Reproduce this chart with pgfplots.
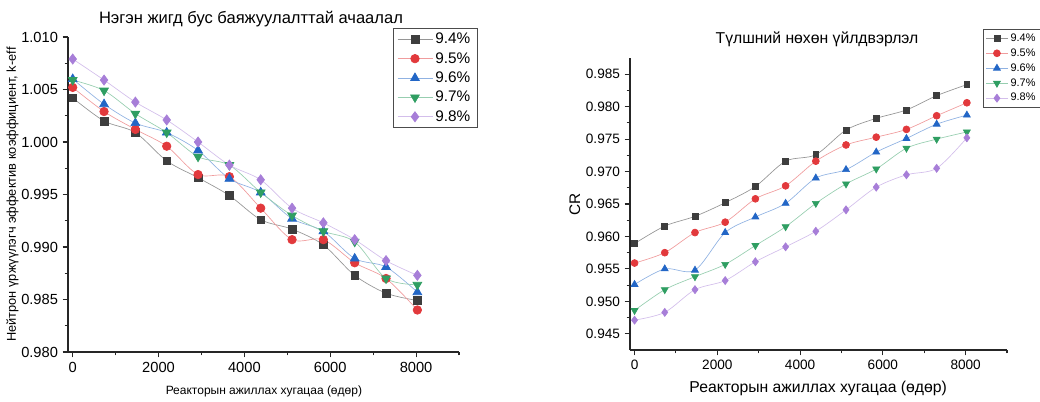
\documentclass[border=0pt]{standalone}
\usepackage{fontspec}
\setmainfont{Liberation Sans}
\usepackage{pgfplots}
\pgfplotsset{compat=1.18}

% marker colours and the paler tones of their connecting lines
\definecolor{cK}{HTML}{3E3E3E}
\definecolor{cR}{HTML}{E2393C}
\definecolor{cB}{HTML}{2266C6}
\definecolor{cG}{HTML}{2F9E62}
\definecolor{cP}{HTML}{A77ED8}
\colorlet{lK}{cK!55!white}
\colorlet{lR}{cR!50!white}
\colorlet{lB}{cB!50!white}
\colorlet{lG}{cG!50!white}
\colorlet{lP}{cP!50!white}

\pgfplotsset{
  base/.style={
    scale only axis,
    axis lines*=left,
    axis line style={line width=0.9pt, black!85, -},
    tick align=outside,
    tick style={line width=0.8pt, black!85},
    major tick length=4pt, minor tick length=2.5pt,
    xmin=-110, xmax=9000,
    xtick={0,2000,4000,6000,8000},
    minor xtick={1000,3000,5000,7000,9000},
    minor y tick num=1,
    /pgf/number format/assume math mode=true,
    xticklabel style={/pgf/number format/1000 sep={}},
    yticklabel style={/pgf/number format/.cd, fixed, fixed zerofill, precision=3},
    every axis plot/.append style={line width=0.5pt, smooth},
    legend cell align=left,
    legend style={draw=black!70, line width=0.6pt, fill=white},
    clip=false,
  },
  sK/.style={color=lK, mark=square*, mark options={draw=cK, fill=cK, solid}},
  sR/.style={color=lR, mark=*, mark options={draw=cR, fill=cR, solid}},
  sB/.style={color=lB, mark=triangle*, mark options={draw=cB, fill=cB, solid}},
  sG/.style={color=lG, mark=triangle*, mark options={draw=cG, fill=cG, solid, rotate=180}},
  sP/.style={color=lP, mark=diamond*, mark options={draw=cP, fill=cP, solid}},
}

\begin{document}
\begin{tikzpicture}
\useasboundingbox (0,0) rectangle (780pt,300.75pt);

% ---------- k-eff ----------
\begin{axis}[base,
  at={(51pt,36.75pt)}, anchor=south west,
  width=293.25pt, height=236.25pt,
  ymin=0.980, ymax=1.010,
  ytick={0.980,0.985,0.990,0.995,1.000,1.005,1.010},
  tick label style={font=\fontsize{11}{13}\selectfont},
  title={Нэгэн жигд бус баяжуулалттай ачаалал},
  title style={at={(axis description cs:0.468,1.032)}, anchor=center, font=\fontsize{12.4}{14}\selectfont},
  xlabel={Реакторын ажиллах хугацаа (өдөр)},
  xlabel style={at={(axis description cs:0.501,-0.124)}, anchor=center, font=\fontsize{9}{11}\selectfont},
  ylabel={Нейтрон үржүүлэгч эффектив коэффициент, k-eff},
  ylabel style={at={(axis description cs:-0.142,0.5)}, anchor=center, rotate=0, font=\fontsize{9.6}{11}\selectfont},
  legend style={at={(0.831,1.029)}, anchor=north west, font=\fontsize{11.5}{13.5}\selectfont,
    inner xsep=3pt, inner ysep=1.5pt, row sep=1pt},
  legend image code/.code={\draw[mark repeat=2, mark phase=2] plot coordinates {(0pt,0pt) (13pt,0pt) (26pt,0pt)};},
  every axis plot/.append style={mark size=3.2pt},
]
\addplot[sK, mark size=2.9pt] coordinates {(0,1.0042) (730,1.0020) (1460,1.0009) (2190,0.9982) (2920,0.9966) (3650,0.9949) (4380,0.9926) (5110,0.9917) (5840,0.9902) (6570,0.9873) (7300,0.9856) (8030,0.9849)};
\addplot[sR] coordinates {(0,1.0052) (730,1.0029) (1460,1.0012) (2190,0.9996) (2920,0.9969) (3650,0.9967) (4380,0.9937) (5110,0.9907) (5840,0.9907) (6570,0.9885) (7300,0.9870) (8030,0.9840)};
\addplot[sB, mark size=3.8pt] coordinates {(0,1.0060) (730,1.0036) (1460,1.0018) (2190,1.0009) (2920,0.9992) (3650,0.9965) (4380,0.9952) (5110,0.9927) (5840,0.9915) (6570,0.9889) (7300,0.9881) (8030,0.9857)};
\addplot[sG, mark size=3.8pt] coordinates {(0,1.0059) (730,1.0049) (1460,1.0027) (2190,1.0009) (2920,0.9986) (3650,0.9978) (4380,0.9952) (5110,0.9930) (5840,0.9915) (6570,0.9905) (7300,0.9870) (8030,0.9864)};
\addplot[sP, mark size=3.8pt] coordinates {(0,1.0079) (730,1.0059) (1460,1.0038) (2190,1.0021) (2920,1.0000) (3650,0.9978) (4380,0.9964) (5110,0.9937) (5840,0.9923) (6570,0.9907) (7300,0.9887) (8030,0.9873)};
\legend{9.4\%,9.5\%,9.6\%,9.7\%,9.8\%}
\end{axis}

% ---------- conversion ratio ----------
\begin{axis}[base,
  at={(472.5pt,38.25pt)}, anchor=south west,
  width=282.75pt, height=219pt,
  ymin=0.9425, ymax=0.9875,
  ytick={0.945,0.950,0.955,0.960,0.965,0.970,0.975,0.980,0.985},
  tick label style={font=\fontsize{10.2}{12}\selectfont},
  title={Түлшний нөхөн үйлдвэрлэл},
  title style={at={(axis description cs:0.496,1.038)}, anchor=center, font=\fontsize{11.8}{14}\selectfont},
  xlabel={Реакторын ажиллах хугацаа (өдөр)},
  xlabel style={at={(axis description cs:0.499,-0.130)}, anchor=center, font=\fontsize{11.8}{14}\selectfont},
  ylabel={CR},
  ylabel style={at={(axis description cs:-0.146,0.5)}, anchor=center, rotate=0, font=\fontsize{11.5}{13}\selectfont},
  legend style={at={(0.936,1.099)}, anchor=north west, font=\fontsize{8.2}{9.5}\selectfont,
    inner xsep=2pt, inner ysep=1pt, row sep=0pt},
  legend image code/.code={\draw[mark repeat=2, mark phase=2] plot coordinates {(0pt,0pt) (8pt,0pt) (16pt,0pt)};},
  every axis plot/.append style={mark size=2.6pt},
]
\addplot[sK, mark size=2.2pt] coordinates {(0,0.9589) (730,0.9616) (1460,0.9631) (2190,0.9652) (2920,0.9677) (3650,0.9716) (4380,0.9726) (5110,0.9764) (5840,0.9782) (6570,0.9795) (7300,0.9817) (8030,0.9834)};
\addplot[sR] coordinates {(0,0.9559) (730,0.9575) (1460,0.9606) (2190,0.9622) (2920,0.9658) (3650,0.9678) (4380,0.9716) (5110,0.9741) (5840,0.9753) (6570,0.9765) (7300,0.9786) (8030,0.9806)};
\addplot[sB, mark size=3pt] coordinates {(0,0.9526) (730,0.9550) (1460,0.9548) (2190,0.9606) (2920,0.9630) (3650,0.9651) (4380,0.9690) (5110,0.9703) (5840,0.9730) (6570,0.9751) (7300,0.9773) (8030,0.9787)};
\addplot[sG, mark size=3pt] coordinates {(0,0.9486) (730,0.9518) (1460,0.9538) (2190,0.9557) (2920,0.9586) (3650,0.9615) (4380,0.9651) (5110,0.9681) (5840,0.9704) (6570,0.9736) (7300,0.9750) (8030,0.9761)};
\addplot[sP, mark size=3pt] coordinates {(0,0.9471) (730,0.9483) (1460,0.9518) (2190,0.9532) (2920,0.9561) (3650,0.9584) (4380,0.9608) (5110,0.9641) (5840,0.9676) (6570,0.9695) (7300,0.9705) (8030,0.9752)};
\legend{9.4\%,9.5\%,9.6\%,9.7\%,9.8\%}
\end{axis}
\end{tikzpicture}
\end{document}
